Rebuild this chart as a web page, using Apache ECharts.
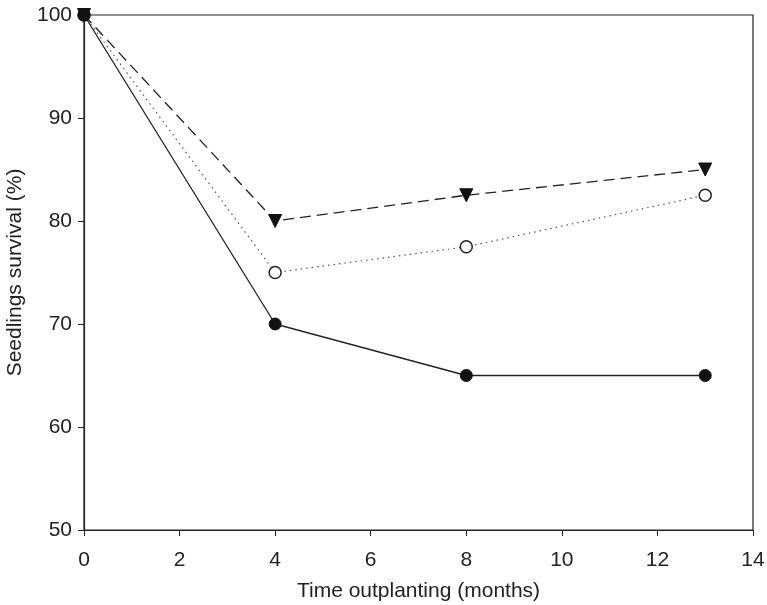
<!DOCTYPE html>
<html>
<head>
<meta charset="utf-8">
<script src="https://cdn.jsdelivr.net/npm/echarts@6/dist/echarts.min.js"></script>
<style>
  html, body { margin: 0; padding: 0; background: #fff; }
  #chart { width: 767px; height: 605px; }
</style>
</head>
<body>
<div id="chart"></div>
<script>
// months after outplanting
var months = [0, 4, 8, 13]
// survival (%) per treatment
var survivalSolid = [100, 70, 65, 65]
var survivalDotted = [100, 75, 77.5, 82.5]
var survivalDashed = [100, 80, 82.5, 85]

var xTicks = [0, 2, 4, 6, 8, 10, 12, 14]
var yTicks = [50, 60, 70, 80, 90, 100]

function pairs (ys) {
  return months.map(function (m, i) { return [m, ys[i]] })
}

var chart = echarts.init(document.getElementById('chart'))
var font = 'Liberation Sans, Arial, sans-serif'

chart.setOption({
  backgroundColor: '#fff',
  animation: false,
  grid: {
    left: 84,
    right: 14,
    top: 15,
    bottom: 75,
    containLabel: false,
    outerBoundsMode: 'none',
    show: true,
    borderColor: '#222',
    borderWidth: 1.2
  },
  xAxis: {
    type: 'value',
    min: xTicks[0],
    max: xTicks[xTicks.length - 1],
    interval: 2,
    name: 'Time outplanting (months)',
    nameLocation: 'middle',
    nameGap: 51,
    nameTextStyle: { fontFamily: font, fontSize: 21, color: '#222' },
    axisLine: { lineStyle: { color: '#222', width: 1.2 } },
    axisTick: { show: true, length: 6, lineStyle: { color: '#222' } },
    axisLabel: { fontFamily: font, fontSize: 21, color: '#222', margin: 20 },
    splitLine: { show: false }
  },
  yAxis: {
    type: 'value',
    min: yTicks[0],
    max: yTicks[yTicks.length - 1],
    interval: 10,
    name: 'Seedlings survival (%)',
    nameLocation: 'middle',
    nameGap: 54,
    nameTextStyle: { fontFamily: font, fontSize: 21, color: '#222' },
    axisLine: { show: true, lineStyle: { color: '#222', width: 1.2 } },
    axisTick: { show: true, length: 6, lineStyle: { color: '#222' } },
    axisLabel: { fontFamily: font, fontSize: 21, color: '#222', margin: 12 },
    splitLine: { show: false }
  },
  series: [
    {
      type: 'line',
      data: pairs(survivalDashed),
      symbol: 'triangle',
      symbolRotate: 180,
      symbolSize: 13,
      lineStyle: { color: '#222', width: 1.3, type: [11, 6] },
      itemStyle: { color: '#111', borderColor: '#111' },
      z: 2
    },
    {
      type: 'line',
      data: pairs(survivalDotted),
      symbol: 'circle',
      symbolSize: 12,
      lineStyle: { color: '#555', width: 1.2, type: [1.5, 4] },
      itemStyle: { color: '#fff', borderColor: '#222', borderWidth: 1.5 },
      z: 3
    },
    {
      type: 'line',
      data: pairs(survivalSolid),
      symbol: 'circle',
      symbolSize: 12,
      lineStyle: { color: '#222', width: 1.3 },
      itemStyle: { color: '#111', borderColor: '#111' },
      z: 4
    }
  ]
})
</script>
</body>
</html>
